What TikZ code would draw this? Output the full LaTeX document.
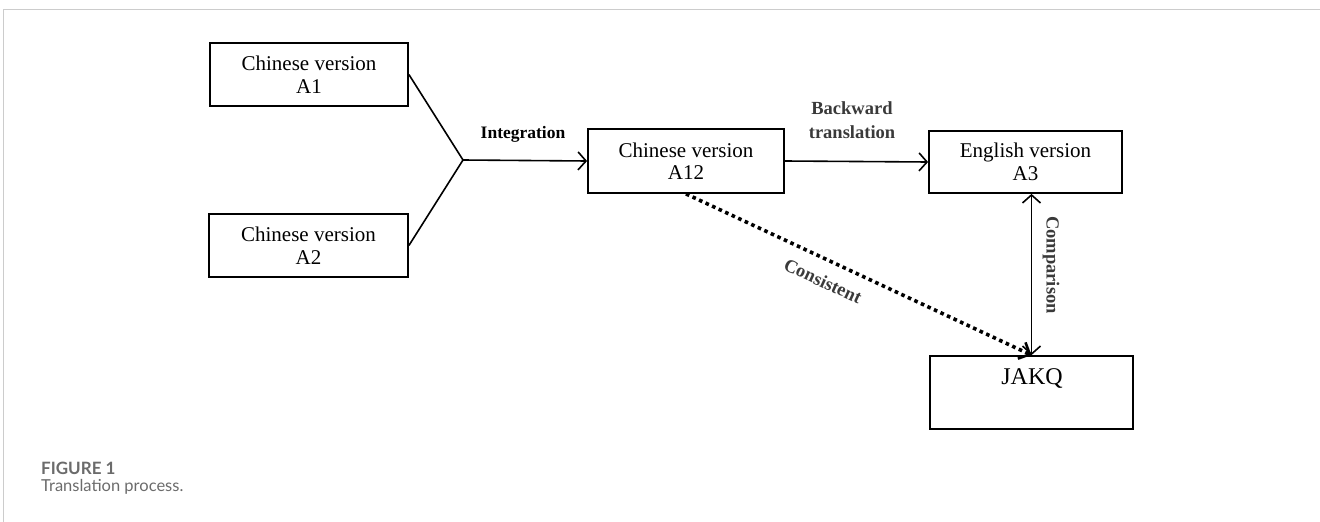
\documentclass[tikz,border=0pt]{standalone}
\usepackage{fontspec}
\setmainfont{Liberation Serif}
\newfontfamily\capfont{Lato}
\usetikzlibrary{arrows.meta}
\definecolor{capgray}{HTML}{6B6B6B}
\definecolor{framegray}{HTML}{CCCCCC}
\definecolor{lblgray}{HTML}{3A3A3A}
\begin{document}
\begin{tikzpicture}[x=1pt,y=-1pt,
  box/.style={draw, line width=1.8pt, inner sep=0pt, align=center, font=\fontsize{21}{22.5}\selectfont},
  lbl/.style={font=\bfseries\fontsize{17.5}{20}\selectfont},
  slbl/.style={font=\bfseries\fontsize{18.5}{24}\selectfont, text=lblgray, align=center},
  conn/.style={line width=1.6pt},
  arr/.style={line width=1.6pt, -{Straight Barb[length=8pt,width=18pt,line width=1.6pt]}},
  darr/.style={line width=1.6pt, {Straight Barb[length=8pt,width=18pt,line width=1.6pt]}-{Straight Barb[length=8pt,width=18pt,line width=1.6pt]}},
  dotarr/.style={line width=3.6pt, dash pattern=on 3.6pt off 3.6pt, -{Straight Barb[length=9pt,width=18pt,line width=2.6pt]}},
  captext/.style={font=\capfont\fontsize{16.5}{17}\selectfont, text=capgray, anchor=base west, inner sep=0pt}
]
\useasboundingbox (0,0) rectangle (1320,522);
\draw[framegray, line width=1.5pt] (3.7,522) -- (3.7,9.5) -- (1320,9.5);

\node[box, minimum width=198pt, minimum height=63pt] (a1) at (309,74.5) {Chinese version\\A1};
\node[box, minimum width=199pt, minimum height=63pt] (a2) at (308.5,245.5) {Chinese version\\A2};
\node[box, minimum width=196pt, minimum height=64pt] (a12) at (686,161) {Chinese version\\A12};
\node[box, minimum width=193pt, minimum height=62pt] (a3) at (1025.5,162) {English version\\A3};
\node[box, minimum width=203pt, minimum height=73pt] (jakq) at (1031.5,392.5) {};
\node[font=\fontsize{24}{26}\selectfont, inner sep=0pt] (jakqt) at (1032,378) {JAKQ};

\coordinate (j) at (463,160);
\draw[conn] (a1.east) -- (j) -- (a2.east);
\draw[arr] (j) -- (a12.west);
\node[lbl] (integ) at (523,134) {Integration};

\draw[arr] (a12.east) -- (a3.west);
\node[slbl] (back) at (852,120) {Backward\\translation};

\draw[darr] (jakq.north) -- (jakq.north |- a3.south);
\node[slbl, rotate=-90] (comp) at (1051,265) {Comparison};

\draw[dotarr] (a12.south) -- (jakq.north);
\node[slbl, rotate=-24.9] (cons) at (823,281) {Consistent};

\node[captext, font=\capfont\bfseries\fontsize{17}{17}\selectfont] (fig) at (41,474) {FIGURE 1};
\node[captext] (capt) at (41,491) {Translation process.};
\end{tikzpicture}
\end{document}
